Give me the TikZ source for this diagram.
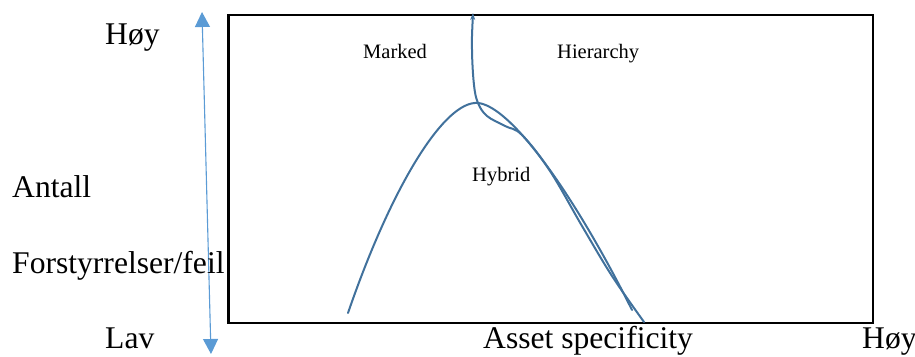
\documentclass[tikz,border=0pt]{standalone}
\usepackage{fontspec}
\setmainfont{Liberation Serif}
\usetikzlibrary{arrows.meta}
\definecolor{axisblue}{RGB}{91,155,213}
\definecolor{curveblue}{RGB}{65,113,156}
\tikzset{
  bigtext/.style={anchor=base west, inner sep=0pt, font=\fontsize{31.6}{31.6}\selectfont},
  regiontext/.style={anchor=base west, inner sep=0pt, font=\fontsize{20.5}{20.5}\selectfont},
  frame/.style={draw=black, line width=2.6pt},
  axisarrow/.style={draw=axisblue, line width=1.1pt, {Triangle[width=15pt,length=15pt]}-{Triangle[width=15pt,length=15pt]}},
  curve/.style={draw=curveblue, line width=2pt, line cap=round, line join=round},
}
\begin{document}
\begin{tikzpicture}[x=1pt, y=-1pt]
\useasboundingbox (0,0) rectangle (915,356);

% frame of the chart
\draw[frame] (228.5,15) rectangle (873,323);

% vertical axis arrow (low to high)
\coordinate (ytop) at (202,12);
\coordinate (ybot) at (211,354);
\draw[axisarrow] (ybot) -- (ytop);

% axis labels
\node[bigtext] (hoyleft) at (105,44) {Høy};
\node[bigtext] (antall) at (12,197) {Antall};
\node[bigtext] (forst) at (12,273) {Forstyrrelser/feil};
\node[bigtext] (lav) at (105,348) {Lav};
\node[bigtext] (asset) at (483,348) {Asset specificity};
\node[bigtext] (hoyright) at (862,348) {Høy};

% region labels
\node[regiontext] (marked) at (363,58) {Marked};
\node[regiontext] (hier) at (557,58) {Hierarchy};
\node[regiontext] (hybrid) at (472,181) {Hybrid};

% bell-shaped curve
\coordinate (bellstart) at (348,313);
\coordinate (peak) at (478,103);
\coordinate (bellend) at (632,310);
\draw[curve] (bellstart) .. controls (392,185) and (445,100) .. (peak)
  .. controls (510,106) and (572,190) .. (bellend);

% boundary curve from the top edge down to the right
\draw[curve, {Stealth[length=7pt,width=5pt]}-] plot[smooth, tension=0.6] coordinates {
  (473,13) (472,50) (474,85) (478,103) (487,116) (505,126) (522,135)
  (550,171) (582,226) (612,276) (644,322)};
\end{tikzpicture}
\end{document}
